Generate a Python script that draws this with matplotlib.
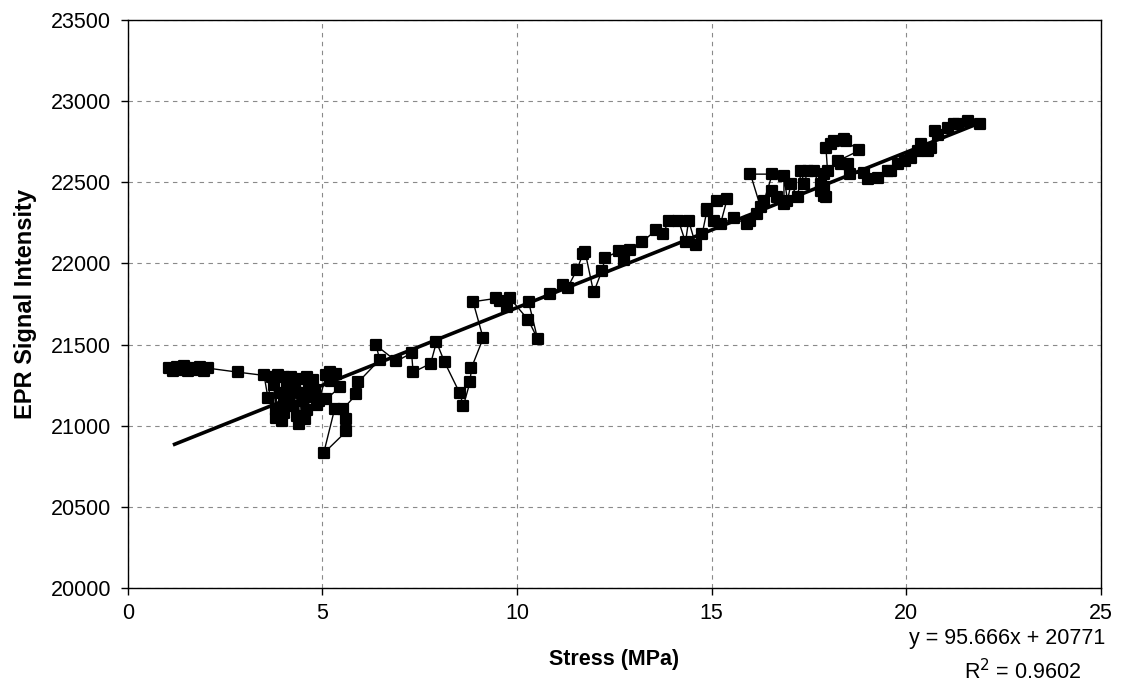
#!/usr/bin/env python
# -*- coding: utf-8 -*-
"""
EPR signal intensity vs stress, with linear trendline (Excel-style chart).
"""

import matplotlib
matplotlib.use("Agg")
import matplotlib.pyplot as plt
from matplotlib.markers import MarkerStyle
import numpy as np

plt.rcParams["font.family"] = ["Liberation Sans", "DejaVu Sans"]

STRESS = [
    1.05, 1.15, 1.25, 1.35, 1.45, 1.55, 1.65, 1.75, 1.85, 1.95, 2.05, 2.83,
    3.50, 3.60, 3.70, 3.75, 3.80, 3.85, 3.90, 3.80, 3.95, 4.00, 4.05, 4.10,
    4.00, 4.15, 4.20, 4.25, 4.30, 4.35, 4.40, 4.45, 4.40, 4.50, 4.55, 4.60,
    4.65, 4.60, 4.70, 4.75, 4.80, 4.85, 4.90, 5.10, 5.20, 5.35, 5.22, 5.44,
    5.09, 5.31, 5.03, 5.61, 5.61, 5.52, 5.87, 5.92, 6.47, 6.38, 6.90, 7.29,
    7.33, 7.78, 7.93, 8.14, 8.53, 8.62, 8.79, 8.83, 9.13, 8.87, 9.47, 9.55,
    9.73, 9.82, 10.29, 10.53, 10.30, 10.85, 11.19, 11.30, 11.54, 11.69, 11.75, 11.97,
    12.18, 12.27, 12.61, 12.74, 12.91, 13.21, 13.56, 13.75, 13.90, 14.15, 14.33, 14.41,
    14.59, 14.76, 14.89, 15.06, 14.89, 15.15, 15.40, 15.23, 15.57, 15.92, 16.00, 16.18,
    16.26, 16.00, 16.56, 16.35, 16.56, 16.69, 16.86, 16.86, 16.95, 17.04, 17.21, 17.30,
    17.38, 17.47, 17.63, 17.81, 17.90, 17.81, 17.90, 17.94, 17.89, 17.98, 17.94, 18.07,
    18.15, 18.41, 18.45, 18.80, 18.24, 18.32, 18.50, 18.56, 18.93, 19.01, 19.27, 19.53,
    19.61, 19.78, 19.96, 20.13, 20.30, 20.39, 20.56, 20.64, 20.73, 20.81, 21.07, 21.24,
    21.33, 21.59, 21.89,
]
EPR = [
    21355, 21340, 21360, 21345, 21365, 21340, 21355, 21345, 21360, 21340, 21355, 21330,
    21310, 21170, 21300, 21250, 21100, 21310, 21200, 21050, 21030, 21300, 21150, 21230,
    21080, 21180, 21300, 21120, 21250, 21060, 21010, 21200, 21290, 21150, 21040, 21300,
    21230, 21100, 21180, 21280, 21220, 21130, 21150, 21310, 21330, 21320, 21275, 21236,
    21162, 21101, 20830, 20965, 21040, 21101, 21193, 21269, 21407, 21495, 21397, 21448,
    21330, 21383, 21516, 21391, 21200, 21122, 21267, 21357, 21540, 21764, 21785, 21770,
    21734, 21785, 21652, 21534, 21760, 21811, 21866, 21850, 21962, 22056, 22070, 21821,
    21954, 22036, 22074, 22019, 22080, 22131, 22203, 22180, 22264, 22264, 22131, 22264,
    22116, 22183, 22336, 22264, 22325, 22387, 22397, 22244, 22277, 22244, 22260, 22306,
    22346, 22550, 22550, 22387, 22448, 22407, 22366, 22540, 22387, 22489, 22407, 22570,
    22489, 22570, 22570, 22448, 22417, 22489, 22550, 22407, 22468, 22570, 22712, 22733,
    22753, 22764, 22753, 22696, 22631, 22610, 22610, 22550, 22560, 22519, 22529, 22570,
    22570, 22610, 22631, 22651, 22692, 22733, 22692, 22712, 22815, 22794, 22835, 22856,
    22856, 22876, 22856,
]

# linear trendline as printed on the chart
SLOPE = 95.666
INTERCEPT = 20771
R2 = 0.9602
TREND_X = [1.2, 21.9]

X_TICKS = [0, 5, 10, 15, 20, 25]
Y_TICKS = [20000, 20500, 21000, 21500, 22000, 22500, 23000, 23500]


def main():
    fig = plt.figure(figsize=(11.22, 6.87), dpi=100)
    ax = fig.add_axes([0.114, 0.144, 0.867, 0.827])

    # data series (markers connected by a thin line)
    marker = MarkerStyle("s", joinstyle="round")
    ax.plot(STRESS, EPR, color="black", linewidth=1.0, marker=marker,
            markersize=6.5, markeredgewidth=1.6, markerfacecolor="black",
            markeredgecolor="black", zorder=3)

    # trendline
    trend_x = np.array(TREND_X)
    ax.plot(trend_x, SLOPE * trend_x + INTERCEPT, color="black",
            linewidth=2.6, zorder=4)

    ax.set_xlim(0, 25)
    ax.set_ylim(20000, 23500)
    ax.set_xticks(X_TICKS)
    ax.set_yticks(Y_TICKS)
    ax.tick_params(axis="both", direction="out", length=5, width=1,
                   labelsize=15.5, color="black")
    ax.tick_params(axis="x", pad=6)
    ax.tick_params(axis="y", pad=7)

    ax.grid(True, color="#8a8a8a", linestyle=(0, (4, 4)), linewidth=0.8)
    ax.set_axisbelow(True)
    for sp in ax.spines.values():
        sp.set_color("black")
        sp.set_linewidth(1.0)

    ax.set_xlabel("Stress (MPa)", fontsize=15.5, fontweight="bold", labelpad=18)
    ax.set_ylabel("EPR Signal Intensity", fontsize=17, fontweight="bold",
                  labelpad=10)

    fig.text(0.985, 0.070, f"y = {SLOPE}x + {INTERCEPT}", ha="right",
             va="center", fontsize=15.5)
    fig.text(0.911, 0.022, f"R$^2$ = {R2}", ha="center", va="center",
             fontsize=15.5)

    fig.savefig("out.png", dpi=100)
    plt.close(fig)


if __name__ == "__main__":
    main()
